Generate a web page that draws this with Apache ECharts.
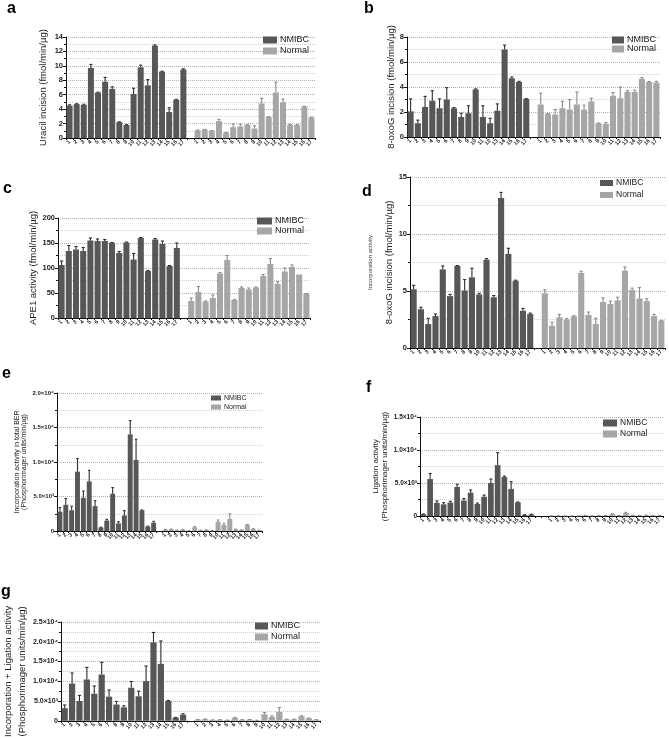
<!DOCTYPE html>
<html><head><meta charset="utf-8">
<script src="https://cdn.jsdelivr.net/npm/echarts@6/dist/echarts.min.js"></script>
<style>html,body{margin:0;padding:0;background:#fff}#c{width:669px;height:739px}</style>
</head><body><div id="c"></div>
<script>
// ---- data ----
const sampleLabels = ['1','2','3','4','5','6','7','8','9','10','11','12','13','14','15','16','17'];

const aNMIBC = [4.5,4.7,4.6,9.7,6.3,7.8,6.8,2.2,1.8,6.1,9.8,7.3,12.8,9.2,3.6,5.3,9.5];
const aNMIBCErr = [0.1,0.05,0.08,0.5,0.05,0.6,0.3,0.05,0.05,0.8,0.3,0.8,0.1,0.05,0.6,0.05,0.1];
const aNormal = [1.06,1.15,1.0,2.34,0.73,1.5,1.6,1.8,1.3,4.8,2.9,6.3,4.95,1.83,1.8,4.36,2.84];
const aNormalErr = [0.05,0.05,0.03,0.25,0.03,0.45,0.3,0.05,0.4,0.7,0.05,1.45,0.45,0.05,0.05,0.05,0.05];

const bNMIBC = [2.05,1.1,2.4,2.9,2.3,3.0,2.3,1.6,1.9,3.8,1.6,1.1,2.1,7.0,4.7,4.4,3.05];
const bNMIBCErr = [1.0,0.25,0.85,0.8,0.75,0.95,0.05,0.3,0.6,0.05,0.9,0.4,0.55,0.35,0.1,0.05,0.02];
const bNormal = [2.6,1.85,1.8,2.3,2.2,2.6,2.2,2.85,1.1,1.05,3.3,3.1,3.6,3.6,4.65,4.4,4.35];
const bNormalErr = [0.9,0.02,0.4,0.55,0.8,1.0,0.35,0.25,0.02,0.1,0.25,0.9,0.1,0.15,0.1,0.03,0.1];

const cNMIBC = [106,134,137,134,155,154,154,150,130,151,117,160,94,157,148,104,140];
const cNMIBCErr = [8,11,6,7,5,4,3,1,3,1,12,1,1,2,6,1,10];
const cNormal = [34,52,33,40,89,116,36,60,57,61,84,108,68,93,102,87,48];
const cNormalErr = [6,11,1,6,2,9,1,2,3,1,3,11,5,7,4,0,1];

const dNMIBC = [5.15,3.4,2.1,2.8,6.9,4.55,7.2,5.05,6.2,4.7,7.75,4.45,13.15,8.25,5.9,3.27,2.98];
const dNMIBCErr = [0.35,0.17,0.5,0.18,0.3,0.15,0.03,0.95,0.8,0.1,0.1,0.15,0.5,0.5,0.05,0.2,0.08];
const dNormal = [4.8,1.96,2.7,2.5,2.78,6.58,2.9,2.1,4.03,3.86,4.18,6.78,5.1,4.35,4.12,2.8,2.4];
const dNormalErr = [0.3,0.3,0.25,0.08,0.05,0.15,0.25,0.5,0.37,0.25,0.27,0.32,0.15,0.95,0.2,0.15,0.03];

const eNMIBC = [2800,3800,3000,8600,4800,7200,3600,500,1500,5400,1100,2250,14000,10300,3000,650,1200];
const eNMIBCErr = [600,900,600,1900,1000,1600,800,50,200,900,250,700,2000,3000,50,50,200];
const eNormal = [200,250,100,200,50,550,100,150,50,1350,900,1750,250,150,900,300,100];
const eNormalErr = [30,30,20,30,20,100,20,20,10,250,200,750,30,20,50,30,20];

const fNMIBC = [260,5600,1980,1770,2030,4400,2340,3540,1820,2920,5000,7700,5900,4100,2080,160,210];
const fNMIBCErr = [50,850,300,250,200,400,300,400,150,250,600,1900,150,1100,50,30,60];
const fNormal = [20,30,20,20,20,80,30,50,60,270,60,450,80,60,120,60,60];
const fNormalErr = [5,5,5,5,5,20,5,10,10,60,10,100,10,10,20,10,10];

const gNMIBC = [3200,9400,5000,10450,6850,11700,6100,4100,3400,8350,6200,10050,19850,14400,5000,800,1530];
const gNMIBCErr = [800,2700,1400,3050,1950,3100,1700,800,400,1600,1300,3800,2500,5800,150,50,250];
const gNormal = [300,400,200,250,150,720,250,300,100,1650,950,2250,350,350,1150,620,250];
const gNormalErr = [30,50,20,30,20,150,30,30,20,450,300,1100,50,50,120,50,30];

const eTicks = ['0','5.0×10³','1.0×10⁴','1.5×10⁴','2.0×10⁴'];
const fTicks = ['0','5.0×10³','1.0×10⁴','1.5×10⁴'];
const gTicks = ['0','5.0×10³','1.0×10⁴','1.5×10⁴','2.0×10⁴','2.5×10⁴'];

// ---- chart ----
const FONT = '"Liberation Sans", Arial, sans-serif';
const DARK = '#575757', LIGHT = '#a6a6a6';
const DARK_ERR = '#2e2e2e', LIGHT_ERR = '#8a8a8a';

const panels = [
  {label:'a', lx:7, ly:15, grid:{left:66, top:37, width:249, height:101}, max:14, interval:2,
   nm:aNMIBC, nmE:aNMIBCErr, no:aNormal, noE:aNormalErr, gap:1,
   name:'Uracil incision (fmol/min/µg)', nameGap:18, nameSize:9.5, nameLH:10,
   leg:{left:263, c1:40, c2:51, w:14, h:7, fs:9}, tickFs:7.5},
  {label:'b', lx:364, ly:15, grid:{left:407, top:37, width:253, height:100}, max:8, interval:2,
   nm:bNMIBC, nmE:bNMIBCErr, no:bNormal, noE:bNormalErr, gap:1,
   name:'8-oxoG incision (fmol/min/µg)', nameGap:11, nameSize:9.5, nameLH:10,
   leg:{left:612, c1:40, c2:49, w:12, h:7, fs:9}, tickFs:7.5},
  {label:'c', lx:3, ly:195, grid:{left:58, top:218, width:252, height:100}, max:200, interval:50,
   nm:cNMIBC, nmE:cNMIBCErr, no:cNormal, noE:cNormalErr, gap:1,
   name:'APE1 activity (fmol/min/µg)', nameGap:20, nameSize:9.5, nameLH:10,
   leg:{left:257, c1:221, c2:231, w:15, h:7, fs:9}, tickFs:7.5},
  {label:'d', lx:362, ly:198, grid:{left:410, top:177, width:255, height:171}, max:15, interval:5,
   nm:dNMIBC, nmE:dNMIBCErr, no:dNormal, noE:dNormalErr, gap:1,
   rich:true, nameGap:14,
   leg:{left:600, c1:183, c2:195, w:13, h:6, fs:8.5}, tickFs:7.5},
  {label:'e', lx:2, ly:380, grid:{left:57, top:393, width:205, height:138}, max:20000, interval:5000,
   nm:eNMIBC, nmE:eNMIBCErr, no:eNormal, noE:eNormalErr, gap:1, ticks:eTicks,
   name:'Incorporation activity in total BER\n(Phosphorimager units/min/µg)', nameGap:29, nameSize:7, nameLH:7.5,
   leg:{left:211, c1:398, c2:407, w:10, h:5, fs:7}, tickFs:6},
  {label:'f', lx:366, ly:394, grid:{left:420, top:417, width:243, height:99}, max:15000, interval:5000,
   nm:fNMIBC, nmE:fNMIBCErr, no:fNormal, noE:fNormalErr, gap:2, ticks:fTicks,
   name:'Ligation activity\n(Phosphorimager units/min/µg)', nameGap:31, nameSize:8, nameLH:8.5,
   leg:{left:603, c1:423, c2:434, w:14, h:7, fs:8.5}, tickFs:6.5},
  {label:'g', lx:1, ly:598, grid:{left:60, top:622, width:260, height:104}, max:25000, interval:5000,
   nm:gNMIBC, nmE:gNMIBCErr, no:gNormal, noE:gNormalErr, gap:1, ticks:gTicks,
   name:'Incorporation + Ligation activity\n(Phosphorimager units/min/µg)', nameGap:30, nameSize:9.5, nameLH:14,
   leg:{left:255, c1:626, c2:637, w:13, h:7, fs:9}, tickFs:7}
];

function errRender(color) {
  return function (params, api) {
    const x = api.value(0), v = api.value(1), e = api.value(2);
    if (!e) return null;
    const p0 = api.coord([x, v]);
    const p1 = api.coord([x, v + e]);
    const w = api.size([1, 0])[0] * 0.22;
    return {type:'group', children:[
      {type:'line', shape:{x1:p0[0], y1:p0[1], x2:p1[0], y2:p1[1]}, style:{stroke:color, lineWidth:1.1}},
      {type:'line', shape:{x1:p1[0]-w, y1:p1[1], x2:p1[0]+w, y2:p1[1]}, style:{stroke:color, lineWidth:1.1}}
    ]};
  };
}

const option = {
  backgroundColor:'#fff', animation:false,
  grid:[], xAxis:[], yAxis:[], series:[], legend:[], graphic:[]
};

panels.forEach((p, i) => {
  const gapCats = Array(p.gap).fill('');
  const cats = [...sampleLabels, ...gapCats, ...sampleLabels];
  const off = 17 + p.gap;
  const nmData = [...p.nm, ...Array(p.gap + 17).fill('-')];
  const noData = [...Array(off).fill('-'), ...p.no];
  option.grid.push(Object.assign({containLabel:false}, p.grid));
  option.xAxis.push({
    type:'category', gridIndex:i, data:cats,
    axisLine:{lineStyle:{color:'#111', width:1}},
    axisTick:{show:true, length:2, lineStyle:{color:'#111'}, interval:0},
    axisLabel:{interval:0, rotate:45, fontSize:5.5, margin:3, color:'#222', fontFamily:FONT, fontWeight:'bold'},
    splitLine:{show:false}
  });
  let yName, nameTextStyle;
  if (p.rich) {
    yName = '{s|Incorporation activity}\n{b|8-oxoG incision (fmol/min/µg)}';
    nameTextStyle = {fontFamily:FONT, color:'#222', rich:{
      s:{fontSize:6, lineHeight:28, fontFamily:FONT, color:'#333'},
      b:{fontSize:9.5, lineHeight:10, fontFamily:FONT, color:'#222'}
    }};
  } else {
    yName = p.name;
    nameTextStyle = {fontFamily:FONT, fontSize:p.nameSize, lineHeight:p.nameLH, color:'#1a1a1a'};
  }
  const ticks = p.ticks;
  option.yAxis.push({
    type:'value', gridIndex:i, min:0, max:p.max, interval:p.interval,
    name:yName, nameLocation:'middle', nameGap:p.nameGap, nameTextStyle:nameTextStyle,
    axisLine:{show:true, lineStyle:{color:'#111', width:1}},
    axisTick:{show:true, length:3, lineStyle:{color:'#111'}},
    minorTick:{show:true, splitNumber:2, length:2, lineStyle:{color:'#111'}},
    axisLabel:{fontSize:p.tickFs, margin:3, color:'#1a1a1a', fontFamily:FONT, fontWeight:'bold',
      formatter: ticks ? (v => ticks[Math.round(v / p.interval)]) : (v => String(v))},
    splitLine:{show:true, lineStyle:{color:'#b0b0b0', type:'dotted', width:1}},
    minorSplitLine:{show:true, lineStyle:{color:'#cfcfcf', type:'dotted', width:1}}
  });
  option.series.push({
    type:'bar', name:'NMIBC', xAxisIndex:i, yAxisIndex:i, data:nmData,
    barGap:'-100%', barCategoryGap:'16%', itemStyle:{color:DARK}, z:2
  });
  option.series.push({
    type:'bar', name:'Normal', xAxisIndex:i, yAxisIndex:i, data:noData,
    barGap:'-100%', barCategoryGap:'16%', itemStyle:{color:LIGHT}, z:2
  });
  option.series.push({
    type:'custom', name:'errN'+i, xAxisIndex:i, yAxisIndex:i, z:3,
    renderItem:errRender(DARK_ERR), encode:{x:0, y:1},
    data:p.nm.map((v, k) => [k, v, p.nmE[k]])
  });
  option.series.push({
    type:'custom', name:'errC'+i, xAxisIndex:i, yAxisIndex:i, z:3,
    renderItem:errRender(LIGHT_ERR), encode:{x:0, y:1},
    data:p.no.map((v, k) => [off + k, v, p.noE[k]])
  });
  const L = p.leg;
  const rowH = Math.max(L.h, L.fs + 1);
  option.legend.push({
    data:['NMIBC','Normal'], orient:'vertical', left:L.left, top:L.c1 - rowH/2,
    itemWidth:L.w, itemHeight:L.h, itemGap:(L.c2 - L.c1) - rowH, icon:'rect',
    selectedMode:false, padding:0,
    textStyle:{fontSize:L.fs, lineHeight:rowH, fontFamily:FONT, color:'#1a1a1a', padding:[0,0,0,-2]}
  });
  option.graphic.push({
    type:'text', left:p.lx, top:p.ly - 14,
    style:{text:p.label, font:'bold 16px ' + FONT, fill:'#000'}
  });
});

const chart = echarts.init(document.getElementById('c'));
chart.setOption(option);
</script>
</body></html>
